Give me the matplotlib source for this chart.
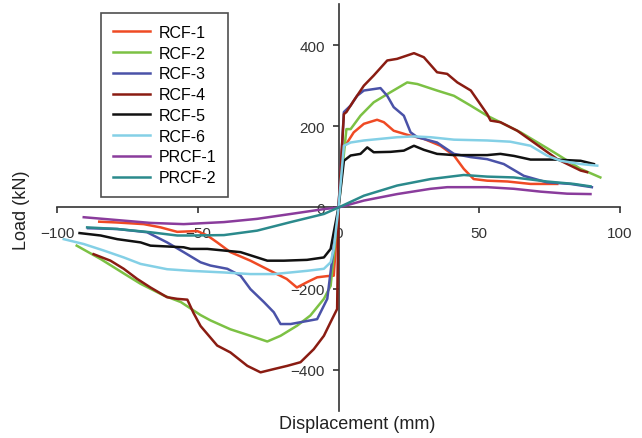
import numpy as np
import matplotlib
matplotlib.use("Agg")
import matplotlib.pyplot as plt

plt.rcParams['font.family'] = ['Liberation Sans', 'DejaVu Sans']

# datos (desplazamiento mm, carga kN)
rcf1_x = [-85, -78.6, -69.2, -63.2, -57.3, -50.2, -46.6, -43.1, -38.4, -31.3, -24.2, -18.4, -14.8, -11.2, -7.6, -4, -1.7, 0,
          1.3, 3.1, 5.4, 9, 13.7, 16.1, 19.6, 24.4, 30.3, 36.2, 41, 44.5, 48, 52.8, 60, 68.2, 77.7]
rcf1_y = [-35, -37, -41, -49, -60, -58, -69, -86, -110, -131, -156, -176, -197, -184, -172, -169, -168, 0,
          144, 160, 185, 206, 216, 210, 189, 179, 169, 152, 128, 95, 70, 66, 64, 58, 58]

rcf2_x = [-93, -84.5, -75, -70.3, -62, -56, -49, -45.5, -38.4, -31.3, -25.3, -20.6, -14.7, -10, -5.2, -2.8, 0,
          2.8, 4.3, 7.8, 12.5, 18.5, 24.4, 28, 35, 41, 46.9, 52.8, 64.7, 76.5, 86, 93]
rcf2_y = [-94, -127, -168, -188, -217, -233, -265, -278, -300, -316, -330, -316, -291, -266, -225, -193, 0,
          193, 193, 226, 259, 284, 308, 304, 288, 275, 251, 226, 185, 136, 95, 74]

rcf3_x = [-89, -78.6, -68, -60.9, -55, -49, -45.5, -39.5, -34.8, -31.3, -26.5, -23, -20.6, -17, -12.3, -7.6, -4, 0,
          1.9, 4.3, 6.6, 9, 14.9, 17.3, 19.6, 23.2, 25.6, 28, 35, 41, 47, 52.8, 58.7, 65.8, 74, 82.4, 90]
rcf3_y = [-51, -53, -61, -86, -110, -135, -143, -151, -168, -201, -233, -258, -287, -287, -281, -275, -225, 0,
          235, 251, 275, 288, 294, 275, 247, 226, 185, 173, 160, 132, 124, 119, 107, 78, 62, 58, 50]

rcf4_x = [-87, -81, -76.3, -71.5, -66.8, -60.9, -57.3, -53.7, -51.5, -49, -43.1, -38.4, -32.4, -27.7, -23, -18.2,
          -13.5, -8.8, -5.2, -2.8, -0.5, 0, 1.9, 2.8, 5.4, 9, 12.5, 17.3, 20.8, 26.8, 30.3, 35, 38.6, 42.2, 47,
          52.8, 54, 57.5, 63.5, 69.4, 77.7, 86, 88.3]
rcf4_y = [-115, -131, -151, -176, -197, -221, -225, -227, -260, -292, -340, -357, -390, -406, -398, -390,
          -381, -349, -316, -282, -250, 0, 230, 235, 263, 300, 325, 362, 366, 380, 370, 333, 329, 308, 288,
          230, 214, 210, 189, 160, 119, 91, 87]

rcf5_x = [-92, -84.5, -78.6, -70.3, -66.8, -55, -52.6, -46.6, -40.7, -34.8, -28.9, -25.3, -19.4, -11.2, -5.2, -2.8,
          -1.7, 0, 1.9, 4.3, 7.8, 10.2, 12.5, 18.5, 23.2, 26.8, 30.3, 35, 41, 52.8, 57.5, 62.3, 68.2, 76.5, 86, 90.7]
rcf5_y = [-63, -69, -78, -86, -94, -98, -102, -102, -106, -110, -123, -131, -131, -129, -123, -102,
          -61, 0, 115, 128, 132, 148, 136, 137, 140, 152, 142, 132, 129, 129, 132, 127, 118, 118, 115, 107]

rcf6_x = [-97.6, -90.5, -83.4, -76.3, -70.3, -60.9, -52.6, -40.7, -31.3, -23, -17, -11.2, -5.2, -2.8, -1.7, 0,
          1.9, 4.3, 9, 14.9, 20.8, 26.8, 32.7, 41, 52.8, 61, 68.2, 74, 78.9, 86, 91.9]
rcf6_y = [-78, -90, -106, -123, -139, -152, -156, -160, -164, -164, -160, -156, -151, -135, -102, 0,
          152, 160, 165, 169, 173, 175, 173, 167, 165, 162, 152, 128, 115, 107, 103]

prcf1_x = [-90.5, -78.6, -66.8, -55, -40.7, -28.9, -17, -5.2, 0, 9, 20.8, 32.7, 38.6, 52.8, 62.3, 71.8, 81.2, 89.5]
prcf1_y = [-24, -31, -38, -41, -36, -28, -16, -4, 0, 17, 33, 46, 50, 50, 46, 39, 34, 33]

prcf2_x = [-89.3, -78.6, -66.8, -57.3, -52.6, -40.7, -28.9, -17, -5.2, 0, 9, 20.8, 32.7, 44.5, 52.8, 62.3, 74,
           83.6, 89.5]
prcf2_y = [-49, -53, -61, -69, -69, -68, -57, -36, -16, 0, 29, 54, 70, 80, 76, 74, 64, 58, 52]

nombres = ["RCF-1", "RCF-2", "RCF-3", "RCF-4", "RCF-5", "RCF-6", "PRCF-1", "PRCF-2"]
colores = ["#ef4a24", "#7cc144", "#4a52a8", "#8a1c12", "#111111", "#84d0e6", "#8a3c9c", "#2b8a8c"]
series = [(rcf1_x, rcf1_y), (rcf2_x, rcf2_y), (rcf3_x, rcf3_y), (rcf4_x, rcf4_y),
          (rcf5_x, rcf5_y), (rcf6_x, rcf6_y), (prcf1_x, prcf1_y), (prcf2_x, prcf2_y)]

fig = plt.figure(figsize=(6.42, 4.39), dpi=100)
ax = fig.add_axes([0.0888, 0.0626, 0.877, 0.925])

for (xs, ys), nom, col in zip(series, nombres, colores):
    ax.plot(xs, ys, color=col, lw=1.8, label=nom)

ax.set_xlim(-100, 100)
ax.set_ylim(-500, 500)
ax.set_xticks([-100, -50, 0, 50, 100])
ax.set_yticks([-400, -200, 0, 200, 400])

# ejes cruzando en el origen
ax.spines['left'].set_position(('data', 0))
ax.spines['bottom'].set_position(('data', 0))
ax.spines['top'].set_visible(False)
ax.spines['right'].set_visible(False)
for s in ['left', 'bottom']:
    ax.spines[s].set_color('#333333')
    ax.spines[s].set_linewidth(1.2)
    ax.spines[s].set_zorder(1)
ax.set_axisbelow(True)
ax.tick_params(axis='x', direction='out', length=4, width=1.2, pad=9, labelsize=11, colors='#333333')
ax.tick_params(axis='y', direction='out', length=4, width=1.2, pad=6, labelsize=11, colors='#333333')

fig.text(357 / 642, 1 - 425 / 439, "Displacement (mm)", ha='center', va='center', fontsize=13, color='#222222')
fig.text(22 / 642, 1 - 210 / 439, "Load (kN)", ha='center', va='center', rotation=90, fontsize=13,
         color='#222222')

leg = ax.legend(loc='upper left', bbox_to_anchor=(101 / 642, 1 - 14 / 439), bbox_transform=fig.transFigure,
                fontsize=11.5, frameon=True, fancybox=False, handlelength=2.3, handletextpad=0.55,
                labelspacing=0.36, borderpad=0.75, borderaxespad=0)
leg.get_frame().set_edgecolor('#222222')
leg.get_frame().set_linewidth(1.2)

fig.savefig("out.png", dpi=100)
